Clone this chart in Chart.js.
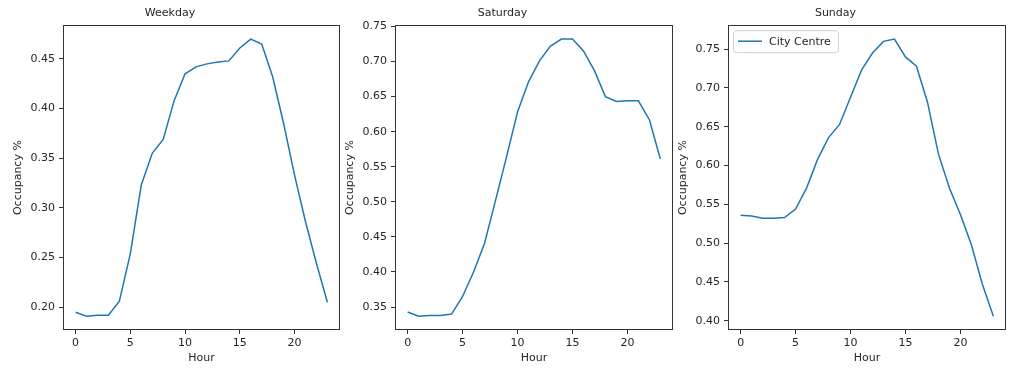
<!DOCTYPE html>
<html>
<head>
<meta charset="utf-8">
<script src="https://cdn.jsdelivr.net/npm/chart.js@4/dist/chart.umd.min.js"></script>
<style>
  body { margin: 0; background: #fff; }
  #wrap { position: relative; width: 1023px; height: 373px; }
  .panel { position: absolute; top: 0; height: 373px; }
</style>
</head>
<body>
<div id="wrap">
  <div class="panel" style="left:0px;width:340px"><canvas id="weekday"></canvas></div>
  <div class="panel" style="left:332px;width:341px"><canvas id="saturday"></canvas></div>
  <div class="panel" style="left:665px;width:341px"><canvas id="sunday"></canvas></div>
</div>
<script>
// hours of the day (x values)
const hours = [0,1,2,3,4,5,6,7,8,9,10,11,12,13,14,15,16,17,18,19,20,21,22,23];

// occupancy per hour
const weekday  = [0.195,0.191,0.192,0.192,0.206,0.254,0.323,0.355,0.369,0.408,0.435,0.442,
                  0.445,0.447,0.448,0.461,0.470,0.465,0.432,0.385,0.333,0.286,0.244,0.205];
const saturday = [0.343,0.337,0.338,0.338,0.340,0.365,0.400,0.441,0.502,0.564,0.628,0.671,
                  0.701,0.722,0.732,0.732,0.715,0.687,0.650,0.643,0.644,0.644,0.617,0.561];
const sunday   = [0.536,0.535,0.532,0.532,0.533,0.544,0.571,0.608,0.636,0.653,0.688,0.723,
                  0.745,0.760,0.763,0.740,0.728,0.682,0.615,0.571,0.537,0.498,0.447,0.406];

// tick labels
const hourTicks = [0, 5, 10, 15, 20];
const weekdayTicks  = [0.20, 0.25, 0.30, 0.35, 0.40, 0.45];
const saturdayTicks = [0.35, 0.40, 0.45, 0.50, 0.55, 0.60, 0.65, 0.70, 0.75];
const sundayTicks   = [0.40, 0.45, 0.50, 0.55, 0.60, 0.65, 0.70, 0.75];

const seriesName = "City Centre";
const lineColor = "#1f77b4";
const textColor = "#262626";
const font = { family: "DejaVu Sans", size: 11 };

Chart.defaults.font.family = "DejaVu Sans";
Chart.defaults.font.size = 11;
Chart.defaults.color = textColor;

// frame around the plot area, like the matplotlib spines
const framePlugin = {
    id: "frame",
    afterDraw(chart) {
        const a = chart.chartArea, ctx = chart.ctx;
        ctx.save();
        ctx.strokeStyle = "#333";
        ctx.lineWidth = 1;
        ctx.strokeRect(Math.round(a.left) + 0.5, Math.round(a.top) + 0.5,
                       Math.round(a.right - a.left) - 1, Math.round(a.bottom - a.top) - 1);
        ctx.restore();
    }
};

// legend box in the upper left corner of the plot area
const boxLegend = {
    id: "boxLegend",
    afterDraw(chart, args, opts) {
        if (!opts.show) return;
        const a = chart.chartArea, ctx = chart.ctx;
        const x = a.left + 5, y = a.top + 5, w = 105, h = 22;
        ctx.save();
        ctx.beginPath();
        ctx.roundRect(x + 0.5, y + 0.5, w, h, 3);
        ctx.fillStyle = "rgba(255,255,255,0.8)";
        ctx.fill();
        ctx.strokeStyle = "#d0d0d0";
        ctx.lineWidth = 1;
        ctx.stroke();
        ctx.beginPath();
        ctx.moveTo(x + 5, y + 11);
        ctx.lineTo(x + 29, y + 11);
        ctx.strokeStyle = chart.data.datasets[0].borderColor;
        ctx.lineWidth = 1.5;
        ctx.stroke();
        ctx.fillStyle = textColor;
        ctx.font = "11px 'DejaVu Sans'";
        ctx.textBaseline = "middle";
        ctx.fillText(chart.data.datasets[0].label, x + 36, y + 11.5);
        ctx.restore();
    }
};

function makeChart(id, title, values, yTicks, showLegend) {
    var lo = Math.min(...values), hi = Math.max(...values);
    var pad = (hi - lo) * 0.05;
    var points = hours.map((h, i) => ({ x: h, y: values[i] }));

    new Chart(id, {
        type: "line",
        data: {
            datasets: [{
                label: seriesName,
                data: points,
                borderColor: lineColor,
                borderWidth: 1.5,
                pointRadius: 0,
                tension: 0,
                fill: false
            }]
        },
        options: {
            responsive: true,
            maintainAspectRatio: false,
            animation: false,
            layout: { padding: 0 },
            plugins: {
                legend: { display: false },
                tooltip: { enabled: false },
                title: {
                    display: true,
                    text: title,
                    color: textColor,
                    font: { size: 11, weight: "normal" },
                    padding: { top: 7, bottom: 5 }
                },
                boxLegend: { show: showLegend }
            },
            scales: {
                x: {
                    type: "linear",
                    min: -1.15,
                    max: 24.15,
                    afterBuildTicks: (s) => { s.ticks = hourTicks.map(v => ({ value: v })); },
                    afterFit: (s) => { s.height = 43; },
                    ticks: { padding: 3, color: textColor, font: font, maxRotation: 0 },
                    grid: { drawOnChartArea: false, drawTicks: true, tickLength: 4, color: "#333" },
                    border: { display: false },
                    title: { display: true, text: "Hour", color: textColor, font: font, padding: { top: 2, bottom: 8 } }
                },
                y: {
                    type: "linear",
                    min: lo - pad,
                    max: hi + pad,
                    afterBuildTicks: (s) => { s.ticks = yTicks.map(v => ({ value: v })); },
                    afterFit: (s) => { s.width = 63; },
                    ticks: { padding: 4, color: textColor, font: font, callback: (v) => Number(v).toFixed(2) },
                    grid: { drawOnChartArea: false, drawTicks: true, tickLength: 4, color: "#333" },
                    border: { display: false },
                    title: { display: true, text: "Occupancy %", color: textColor, font: font, padding: { top: 12, bottom: 2 } }
                }
            }
        },
        plugins: [framePlugin, boxLegend]
    });
}

makeChart("weekday", "Weekday", weekday, weekdayTicks, false);
makeChart("saturday", "Saturday", saturday, saturdayTicks, false);
makeChart("sunday", "Sunday", sunday, sundayTicks, true);
</script>
</body>
</html>
